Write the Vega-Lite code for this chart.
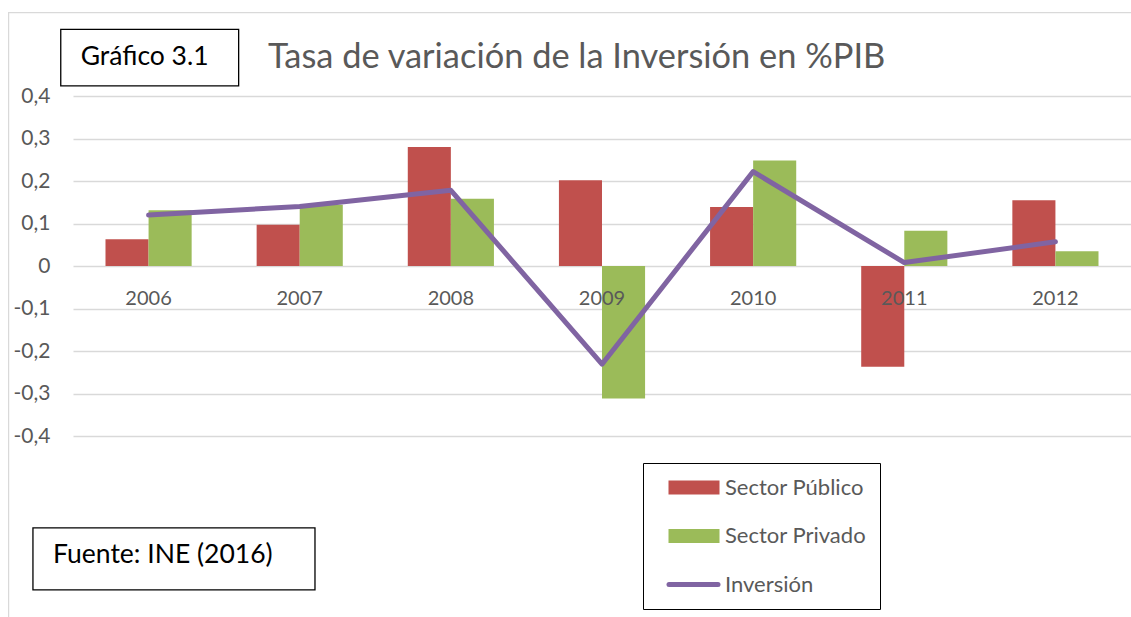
{
  "$schema": "https://vega.github.io/schema/vega-lite/v6.json",
  "width": 1058,
  "height": 340,
  "autosize": {"type": "none"},
  "padding": {"left": 73, "top": 96, "right": 0, "bottom": 181},
  "background": "white",
  "config": {"view": {"stroke": null}, "font": "Lato"},
  "datasets": {
    "bars": [
      {"year": "2006", "serie": "Sector Público", "value": 0.063},
      {"year": "2006", "serie": "Sector Privado", "value": 0.131},
      {"year": "2007", "serie": "Sector Público", "value": 0.097},
      {"year": "2007", "serie": "Sector Privado", "value": 0.144},
      {"year": "2008", "serie": "Sector Público", "value": 0.28},
      {"year": "2008", "serie": "Sector Privado", "value": 0.158},
      {"year": "2009", "serie": "Sector Público", "value": 0.202},
      {"year": "2009", "serie": "Sector Privado", "value": -0.312},
      {"year": "2010", "serie": "Sector Público", "value": 0.139},
      {"year": "2010", "serie": "Sector Privado", "value": 0.248},
      {"year": "2011", "serie": "Sector Público", "value": -0.237},
      {"year": "2011", "serie": "Sector Privado", "value": 0.083},
      {"year": "2012", "serie": "Sector Público", "value": 0.155},
      {"year": "2012", "serie": "Sector Privado", "value": 0.035}
    ],
    "line": [
      {"year": "2006", "inversion": 0.12},
      {"year": "2007", "inversion": 0.14},
      {"year": "2008", "inversion": 0.178},
      {"year": "2009", "inversion": -0.231},
      {"year": "2010", "inversion": 0.222},
      {"year": "2011", "inversion": 0.008},
      {"year": "2012", "inversion": 0.057}
    ]
  },
  "layer": [
    {
      "layer": [
        {
          "data": {"name": "bars"},
          "mark": {"type": "bar"},
          "encoding": {
            "x": {
              "field": "year", "type": "ordinal",
              "scale": {"paddingInner": 0.43, "paddingOuter": 0.215},
              "axis": {
                "title": null, "orient": "bottom", "offset": -170,
                "domain": false, "ticks": false, "grid": false,
                "labelPadding": 22, "labelFontSize": 20, "labelFont": "Lato",
                "labelColor": "#595959", "labelAngle": 0, "zindex": 1
              }
            },
            "xOffset": {
              "field": "serie", "type": "nominal",
              "scale": {"domain": ["Sector Público", "Sector Privado"]}
            },
            "y": {
              "field": "value", "type": "quantitative",
              "scale": {"domain": [-0.4, 0.4], "nice": false, "zero": false},
              "axis": {
                "title": null,
                "values": [-0.4, -0.3, -0.2, -0.1, 0, 0.1, 0.2, 0.3, 0.4],
                "domain": false, "ticks": false,
                "labelPadding": 23, "labelFontSize": 21, "labelFont": "Lato",
                "labelColor": "#595959",
                "gridColor": "#D9D9D9", "gridWidth": 1.5,
                "labelExpr": "datum.value == 0 ? '0' : (datum.value < 0 ? '-' : '') + '0,' + round(abs(datum.value) * 10)"
              }
            },
            "color": {
              "field": "serie", "type": "nominal",
              "scale": {
                "domain": ["Sector Público", "Sector Privado", "Inversión"],
                "range": ["#C0504D", "#9BBB59", "#8064A2"]
              },
              "legend": {
                "title": null,
                "orient": "none",
                "legendX": 570,
                "legendY": 367,
                "direction": "vertical",
                "padding": 13.5,
                "strokeColor": "#000000",
                "symbolSize": 625,
                "rowPadding": 26.5,
                "labelOffset": 46.5,
                "labelFont": "Lato",
                "labelFontSize": 22,
                "labelColor": "#595959",
                "encode": {
                  "symbols": {
                    "update": {
                      "shape": {"signal": "datum.value === 'Inversión' ? 'M0.12,0H4.04' : 'M0.08,-0.56H4.16V0.56H0.08Z'"},
                      "fill": {"signal": "datum.value === 'Inversión' ? 'transparent' : scale('color', datum.value)"},
                      "stroke": {"signal": "datum.value === 'Inversión' ? scale('color', datum.value) : 'transparent'"},
                      "strokeWidth": {"signal": "datum.value === 'Inversión' ? 5 : 0"},
                      "strokeCap": {"value": "round"},
                      "opacity": {"value": 1},
                      "fillOpacity": {"value": 1}
                    }
                  }
                }
              }
            }
          }
        },
        {
          "data": {"name": "line"},
          "mark": {"type": "line", "strokeWidth": 5, "strokeCap": "round", "strokeJoin": "round"},
          "encoding": {
            "x": {"field": "year", "type": "ordinal"},
            "y": {"field": "inversion", "type": "quantitative"},
            "color": {"datum": "Inversión", "type": "nominal"}
          }
        }
      ]
    },
    {
      "data": {"values": [{}]},
      "layer": [
        {
          "mark": {"type": "rect", "fill": "transparent", "stroke": "#D9D9D9", "strokeWidth": 1.2},
          "encoding": {
            "x": {"datum": -0.426, "type": "quantitative", "scale": {"domain": [0, 7], "nice": false, "zero": false}, "axis": null},
            "x2": {"datum": 7.06},
            "y": {"datum": 0.596, "type": "quantitative", "scale": {"domain": [-0.4, 0.4], "nice": false, "zero": false}},
            "y2": {"datum": -0.856}
          }
        },
        {
          "mark": {"type": "text", "align": "left", "baseline": "alphabetic", "font": "Lato", "fontSize": 34.4, "color": "#595959"},
          "encoding": {
            "x": {"datum": 1.29, "type": "quantitative"},
            "y": {"datum": 0.466, "type": "quantitative"},
            "text": {"value": "Tasa de variación de la Inversión en %PIB"}
          }
        },
        {
          "mark": {"type": "rect", "fill": "transparent", "stroke": "#000000", "strokeWidth": 1.3},
          "encoding": {
            "x": {"datum": -0.081, "type": "quantitative"},
            "x2": {"datum": 1.096},
            "y": {"datum": 0.557, "type": "quantitative"},
            "y2": {"datum": 0.424}
          }
        },
        {
          "mark": {"type": "text", "align": "center", "baseline": "alphabetic", "font": "Lato", "fontSize": 26.5, "color": "#000000"},
          "encoding": {
            "x": {"datum": 0.474, "type": "quantitative"},
            "y": {"datum": 0.473, "type": "quantitative"},
            "text": {"value": "Gráfico 3.1"}
          }
        },
        {
          "mark": {"type": "rect", "fill": "transparent", "stroke": "#000000", "strokeWidth": 1.3},
          "encoding": {
            "x": {"datum": -0.265, "type": "quantitative"},
            "x2": {"datum": 1.601},
            "y": {"datum": -0.616, "type": "quantitative"},
            "y2": {"datum": -0.762}
          }
        },
        {
          "mark": {"type": "text", "align": "left", "baseline": "alphabetic", "font": "Lato", "fontSize": 26.5, "color": "#000000"},
          "encoding": {
            "x": {"datum": -0.132, "type": "quantitative"},
            "y": {"datum": -0.699, "type": "quantitative"},
            "text": {"value": "Fuente: INE (2016)"}
          }
        }
      ]
    }
  ],
  "resolve": {"scale": {"x": "independent"}}
}
